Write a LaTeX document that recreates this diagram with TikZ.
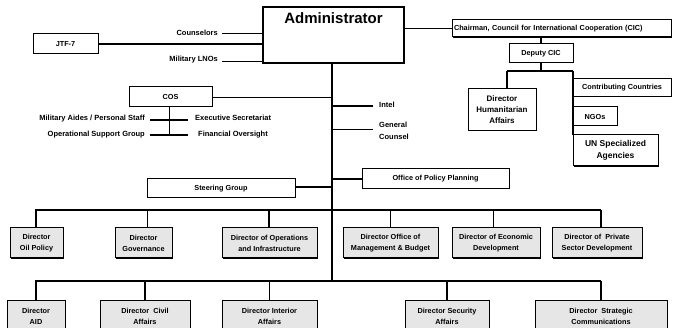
\documentclass[tikz,border=0pt]{standalone}
\usepackage{fontspec}
\setmainfont{Liberation Sans}
\usetikzlibrary{shadows}
\definecolor{boxgray}{HTML}{E6E6E6}
\begin{document}
\begin{tikzpicture}[x=1pt,y=-1pt,
  txt/.style={font=\fontsize{7.5}{10}\selectfont\bfseries, inner sep=0pt, align=center},
  box/.style={draw, line width=1pt, inner sep=0pt, align=center, font=\fontsize{7.3}{11}\selectfont\bfseries},
  sbox/.style={box, drop shadow={shadow xshift=1pt, shadow yshift=-1pt, fill=black, opacity=1}},
  gbox/.style={sbox, fill=boxgray},
  thin/.style={line width=0.7pt},
  med/.style={line width=1.4pt},
  thick/.style={line width=2.6pt}
]
\useasboundingbox (0,0) rectangle (673,328);
% Administrator
\node[box, line width=1.5pt, minimum width=141, minimum height=56] (admin) at (333.5,35) {};
\node[txt, font=\fontsize{15}{17}\selectfont\bfseries] (admint) at (333.5,18) {Administrator};
% left of admin
\node[box, minimum width=65, minimum height=20] (jtf) at (65.5,44) {JTF-7};
\node[txt, anchor=east] (couns) at (218,33) {Counselors};
\node[txt, anchor=east] (mlno) at (218,60) {Military LNOs};
\coordinate (cA) at (222,33); \coordinate (cB) at (263,33);
\coordinate (mA) at (222,61); \coordinate (mB) at (263,61);
\draw[thin] (cA) -- (cB);
\draw[thin] (mA) -- (mB);
\draw[med] (jtf.east) -- (jtf.east -| admin.west);
% right of admin
\node[sbox, fill=white, minimum width=219, minimum height=17, text width=215, align=left] (chair) at (561.5,28.5) {Chairman, Council for International Cooperation (CIC)};
\draw[med] (admin.east |- chair.west) -- (chair.west);
\node[box, minimum width=64, minimum height=19] (dep) at (541,53.5) {Deputy CIC};
\draw[med] (chair.south -| dep.north) -- (dep.north);
\coordinate (dj) at (541,71); \coordinate (dl) at (507,71); \coordinate (dr) at (573,71); \coordinate (dbot) at (573,135);
\node[box, minimum width=68, minimum height=42, font=\fontsize{8}{11}\selectfont\bfseries] (hum) at (502,110) {Director\\Humanitarian\\Affairs};
\node[box, minimum width=98, minimum height=18] (contrib) at (622,88) {Contributing Countries};
\node[box, minimum width=44, minimum height=19] (ngo) at (595,116.5) {NGOs};
\node[sbox, fill=white, minimum width=85, minimum height=31, font=\fontsize{8.5}{12}\selectfont\bfseries] (un) at (615.5,150.5) {UN Specialized\\Agencies};
\draw[med] (dep.south) -- (dj);
\draw[med] (dl) -- (dr);
\draw[med] (dl) -- (dl |- hum.north);
\draw[med] (dr) -- (dbot);
% COS
\node[box, minimum width=83, minimum height=20] (cos) at (170.5,97) {COS};
\coordinate (trunkTop) at (332,63); \coordinate (trunkBot) at (332,281);
\draw[line width=2pt] (trunkTop) -- (trunkBot);
\draw[thin] (cos.east) -- (cos.east -| trunkTop);
\coordinate (cv1) at (169,107); \coordinate (cv2) at (169,135);
\draw[thin] (cv1) -- (cv2);
\coordinate (h1a) at (150,120); \coordinate (h1b) at (188,120);
\coordinate (h2a) at (150,135); \coordinate (h2b) at (188,135);
\draw[med] (h1a) -- (h1b);
\draw[med] (h2a) -- (h2b);
\node[txt, anchor=east] (aides) at (145,119) {Military Aides / Personal Staff};
\node[txt, anchor=west] (exec) at (195,118) {Executive Secretariat};
\node[txt, anchor=east] (opsup) at (145,135) {Operational Support Group};
\node[txt, anchor=west] (fin) at (198,135) {Financial Oversight};
% Intel / GC
\coordinate (iA) at (332,106); \coordinate (iB) at (373,106);
\coordinate (gA) at (332,129); \coordinate (gB) at (373,129);
\draw[med] (iA) -- (iB);
\draw[thin] (gA) -- (gB);
\node[txt, anchor=west] (intel) at (379,105) {Intel};
\node[txt, anchor=west, align=left, font=\fontsize{7.5}{12}\selectfont\bfseries] (gc) at (379,131) {General\\Counsel};
% Steering / OPP
\node[box, minimum width=148, minimum height=19] (steer) at (221,188.5) {Steering Group};
\draw[med] (steer.east |- 0,187) -- (332,187);
\node[box, minimum width=147, minimum height=20] (opp) at (435.5,179) {Office of Policy Planning};
\draw[med] (332,179) -- (opp.west);
% Row 1
\coordinate (b1L) at (35,210); \coordinate (b1R) at (601,210);
\draw[thick] (b1L) -- (b1R);
\node[gbox, minimum width=53, minimum height=30] (oil) at (36.5,243) {Director\\Oil Policy};
\node[gbox, minimum width=57, minimum height=30] (gov) at (143.5,243) {Director\\Governance};
\node[gbox, minimum width=95, minimum height=30] (ops) at (269.5,243) {Director of Operations\\and Infrastructure};
\node[gbox, minimum width=95, minimum height=30] (mgmt) at (390.5,243) {Director Office of\\Management \& Budget};
\node[gbox, minimum width=88, minimum height=30] (econ) at (496,243) {Director of Economic\\Development};
\node[gbox, minimum width=90, minimum height=30] (priv) at (597,243) {Director of~ Private\\Sector Development};
\draw[med] (36,210) -- (36,227);
\draw[thin] (147,210) -- (147,227);
\draw[med] (269,210) -- (269,227);
\draw[thin] (390,210) -- (390,227);
\draw[thin] (493,210) -- (493,227);
\draw[med] (601,210) -- (601,227);
% Row 2
\coordinate (b2L) at (35,281); \coordinate (b2R) at (601,281);
\draw[thick] (b2L) -- (b2R);
\node[gbox, minimum width=58, minimum height=30] (aid) at (36,316) {Director\\AID};
\node[gbox, minimum width=90, minimum height=30] (civ) at (145,316) {Director~ Civil\\Affairs};
\node[gbox, minimum width=95, minimum height=30] (intr) at (269.5,316) {Director Interior\\Affairs};
\node[gbox, minimum width=84, minimum height=30] (sec) at (447,316) {Director Security\\Affairs};
\node[gbox, minimum width=132, minimum height=30] (strat) at (601,316) {Director~ Strategic\\Communications};
\foreach \n in {aid,civ,intr,sec,strat} \draw[med] (\n.north |- b2L) -- (\n.north);
\end{tikzpicture}
\end{document}
